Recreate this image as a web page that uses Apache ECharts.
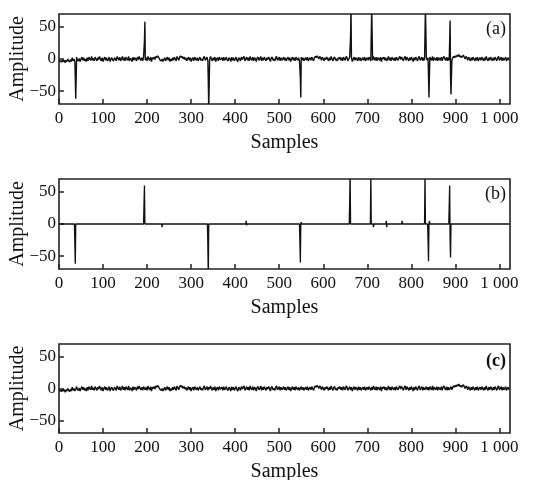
<!DOCTYPE html>
<html>
<head>
<meta charset="utf-8">
<script src="https://cdn.jsdelivr.net/npm/echarts@6/dist/echarts.min.js"></script>
<style>html,body{margin:0;padding:0;background:#fff}#c{width:533px;height:480px}</style>
</head>
<body>
<div id="c"></div>
<script>
// ---- data ----
const nSamples = 1024;
const xTicks = [0, 100, 200, 300, 400, 500, 600, 700, 800, 900, 1000];
const yTicks = [-50, 0, 50];
const panelLabels = ['(a)', '(b)', '(c)'];
// background noise, one value every 2 samples (0,2,4,...,1022)
const noise = [
 -2,-4,-3,-5,-1,-4,-2,-6, -2,-4,0,-3,-5,-1,-4,2, -3,0,-4,-1,3,-2,-3,1, -4,0,3,-2,2,-3,0,-4,
 2,-3,3,0,-2,4,-2,1, -3,3,0,-3,2,-1,4,0, -3,2,-4,0,3,-2,2,-3, -1,3,-4,0,2,-2,-3,2,
 0,-3,4,1,-2,3,-3,0, 4,-2,2,-3,3,0,-2,4, -3,1,0,-4,3,-2,2,0, -3,3,-1,4,0,-2,2,-3,
 3,0,-2,2,-3,4,0,-2, 3,-4,2,0,3,-1,4,2, 5,3,0,-2,-3,0,-4,-1, 2,-3,0,3,-2,2,-4,0,
 -3,2,-2,3,0,-3,4,1, -2,3,5,2,4,0,3,-1, 2,-3,0,3,-2,2,-4,0, 2,-3,3,0,-2,2,-3,0,
 3,-2,0,-3,2,4,-2,0, 3,-3,2,-1,4,0,-3,2, -2,3,-4,0,2,-3,3,-1, 0,2,-3,3,-2,0,3,-2,
 -3,2,0,-4,3,-2,2,-3, 0,3,-2,-4,2,0,-3,3, -1,2,4,-3,0,3,-2,2, -3,4,0,-2,3,-3,2,0,
 -4,2,3,-2,0,4,-3,2, -2,3,0,-3,2,-1,3,0, -4,2,3,-2,0,-3,2,4, -2,0,3,-3,2,-2,0,3,
 -2,2,-3,0,3,-2,2,-4, 0,3,-2,2,-3,3,0,-2, 2,-3,0,3,-2,2,-3,0, 2,-2,3,-3,0,2,-2,3,
 0,-3,2,4,2,5,3,0, 4,2,-2,3,0,-3,2,-1, 3,0,-3,2,-2,4,0,-3, 2,3,-2,0,-3,2,0,3,
 -2,2,-3,3,0,-2,4,2, -3,0,3,-2,2,-4,0,3, -2,2,0,-3,3,-2,2,-3, 0,2,-2,3,-3,0,2,-2,
 3,0,-3,2,-2,4,0,-2, 3,-3,2,0,-2,3,-4,2, 0,3,-2,2,-3,0,4,-2, 2,-3,3,0,-2,2,-3,3,
 0,-2,2,4,-1,3,0,-3, 2,4,-2,3,0,-3,2,-2, 3,0,-4,2,-2,3,0,-3, 2,4,-2,0,3,-3,2,-2,
 0,3,-2,2,-3,3,0,-2, 4,-3,2,0,-2,3,-3,2, 0,-2,3,-3,2,4,0,-2, 3,-3,2,-2,0,3,-2,2,
 4,2,5,3,6,4,7,3, 5,2,4,6,3,0,4,2, -2,3,0,-3,2,-2,3,0, -3,2,-2,3,-3,0,2,-2,
 3,0,-3,2,-2,4,0,-3, 2,-2,3,0,-3,2,-2,3, 0,-3,2,4,-2,0,3,-3, 2,-2,0,3,-3,0,2,-2
];
// impulses in the observed signal (a): sample index and amplitude
const spikeIdxA = [37, 38, 194, 195, 339, 340, 548, 549, 662, 663, 710, 832, 839, 840, 887, 888, 889, 890];
const spikeValA = [-30, -62, 28, 58, -35, -80, -30, -60, 35, 80, 80, 80, -28, -60, 28, 60, -28, -55];
// recovered sparse component (b)
const spikeIdxB = [36, 37, 193, 194, 234, 338, 339, 425, 426, 547, 548, 550, 660, 661, 708, 714, 743, 744, 779, 831, 838, 839, 841, 886, 887, 888, 889];
const spikeValB = [-30, -62, 30, 60, -5, -35, -80, 5, -2, -30, -60, 3, 35, 80, 80, -5, 5, -5, 5, 80, -28, -58, 5, 30, 60, -25, -52];

// ---- build series data ----
const noiseStep = nSamples / noise.length;
const noisePts = noise.map((v, i) => [i * noiseStep, v]);
function merge(base, idx, val) {
  const set = new Set(idx);
  const pts = base.filter(p => !set.has(p[0]));
  idx.forEach((x, k) => pts.push([x, val[k]]));
  pts.sort((p, q) => p[0] - q[0]);
  return pts;
}
const dataA = merge(noisePts, spikeIdxA, spikeValA);
const sparseB = new Array(nSamples).fill(0);
spikeIdxB.forEach((x, k) => { sparseB[x] = spikeValB[k]; });
const dataB = sparseB.map((v, i) => [i, v]);
const dataC = noisePts;

// ---- chart ----
const FONT = '"Liberation Serif", "Times New Roman", serif';
const grids = [
  {left: 59, width: 451, top: 14, height: 90},
  {left: 59, width: 451, top: 179, height: 90},
  {left: 59, width: 451, top: 344, height: 89}
];
function xAxis(i) {
  return {
    type: 'value', gridIndex: i, min: 0, max: nSamples,
    name: 'Samples', nameLocation: 'middle', nameGap: 29, nameMoveOverlap: false,
    nameTextStyle: {fontFamily: FONT, fontSize: 20, color: '#111'},
    axisLine: {show: false, onZero: false},
    splitLine: {show: false},
    axisTick: {show: true, inside: true, length: 5, customValues: xTicks, lineStyle: {color: '#222', width: 1.5}},
    axisLabel: {customValues: xTicks, margin: 6, fontFamily: FONT, fontSize: 17, color: '#111',
      formatter: v => v >= 1000 ? String(v).replace(/(\d)(\d{3})$/, '$1 $2') : String(v)}
  };
}
function yAxis(i) {
  return {
    type: 'value', gridIndex: i, min: -70, max: 70,
    name: 'Amplitude', nameLocation: 'middle', nameGap: 31, nameRotate: 90, nameMoveOverlap: false,
    nameTextStyle: {fontFamily: FONT, fontSize: 20, color: '#111'},
    axisLine: {show: false, onZero: false},
    splitLine: {show: false},
    axisTick: {show: true, inside: true, length: 5, customValues: yTicks, lineStyle: {color: '#222', width: 1.5}},
    axisLabel: {customValues: yTicks, margin: 3, fontFamily: FONT, fontSize: 17, color: '#111',
      formatter: v => v < 0 ? '\u2212' + Math.abs(v) : String(v)}
  };
}
// full-resolution polyline through the axis scales (no point skipping)
const traceSeries = (i, data, w) => ({
  type: 'custom', xAxisIndex: i, yAxisIndex: i, data: data, clip: true,
  encode: {x: 0, y: 1}, animation: false, silent: true,
  renderItem: (params, api) => {
    if (params.dataIndex !== 0) return null;
    const points = data.map(p => api.coord(p));
    return {
      type: 'polyline', shape: {points: points},
      style: {stroke: '#111', lineWidth: w, fill: null, lineJoin: 'bevel'}
    };
  }
});
const chart = echarts.init(document.getElementById('c'), null, {renderer: 'canvas'});
chart.setOption({
  animation: false,
  backgroundColor: '#fff',
  grid: grids.map(g => Object.assign({show: true, borderColor: '#222', borderWidth: 1.6, backgroundColor: 'transparent', outerBoundsMode: 'none', containLabel: false}, g)),
  xAxis: [0, 1, 2].map(xAxis),
  yAxis: [0, 1, 2].map(yAxis),
  title: [
    {text: panelLabels[0], right: 22, top: 15, textStyle: {fontFamily: FONT, fontSize: 18, fontWeight: 'normal', color: '#111'}},
    {text: panelLabels[1], right: 22, top: 180, textStyle: {fontFamily: FONT, fontSize: 18, fontWeight: 'normal', color: '#111'}},
    {text: panelLabels[2], right: 22, top: 347, textStyle: {fontFamily: FONT, fontSize: 18, fontWeight: 'bold', color: '#111'}}
  ],
  series: [traceSeries(0, dataA, 1.4), traceSeries(1, dataB, 1.3), traceSeries(2, dataC, 1.4)]
});
</script>
</body>
</html>
